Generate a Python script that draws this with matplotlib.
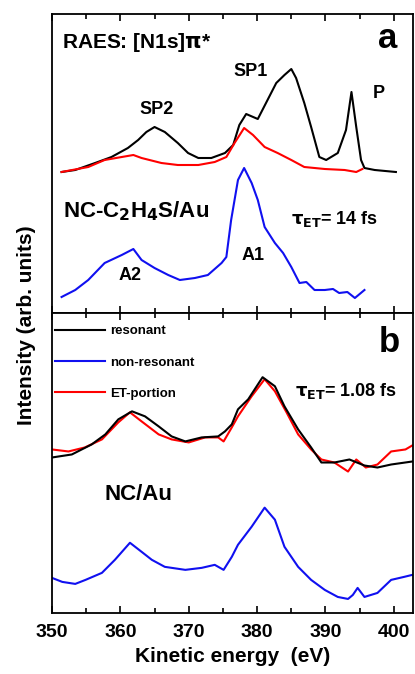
import matplotlib
matplotlib.use('Agg')
import matplotlib.pyplot as plt
from matplotlib.ticker import MultipleLocator

plt.rcParams['font.family'] = ['Liberation Sans', 'DejaVu Sans']
plt.rcParams['font.weight'] = 'bold'

# panel a: resonant (black), ET-portion (red), non-resonant (blue)
a_res_x = [351.4, 353.4, 356.3, 358.7, 361.1, 362.6, 363.8, 365.0, 366.5, 368.4, 369.9, 371.4,
           373.3, 375.3, 376.5, 377.4, 378.4, 380.1, 381.3, 382.8, 384.0, 385.0, 385.7, 386.9,
           387.9, 389.1, 390.1, 391.8, 393.0, 393.8, 394.5, 395.2, 395.7, 397.2, 400.3]
a_res_y = [141, 143, 150, 156, 165, 173, 181, 186, 181, 170, 160, 155,
           155, 160, 168, 188, 199, 194, 210, 230, 238, 244, 235, 210,
           186, 156, 153, 160, 183, 221, 186, 153, 145, 143, 141]
a_et_x = [351.4, 355.3, 357.7, 360.2, 361.9, 363.1, 366.0, 368.4, 371.4, 373.8, 375.5, 376.7,
          378.1, 379.4, 381.1, 383.0, 385.0, 386.9, 389.9, 392.8, 394.5, 395.4]
a_et_y = [141, 146, 153, 156, 158, 155, 150, 148, 148, 151, 156, 170,
          185, 178, 166, 160, 153, 146, 144, 143, 141, 144]
a_non_x = [351.4, 353.4, 355.3, 357.7, 360.2, 361.9, 363.1, 365.0, 367.0, 368.7, 370.9, 372.8,
           374.8, 375.5, 376.2, 377.2, 378.1, 379.2, 380.1, 381.1, 382.6, 383.8, 385.0, 386.2,
           387.2, 388.4, 389.9, 391.1, 392.0, 393.2, 394.3, 395.7]
a_non_y = [16, 23, 33, 50, 58, 64, 53, 45, 38, 33, 35, 38,
           50, 56, 93, 133, 145, 130, 113, 86, 70, 60, 46, 30,
           31, 23, 23, 24, 20, 21, 15, 23]

# panel b
b_res_x = [350.0, 352.9, 355.8, 357.8, 359.7, 361.7, 363.6, 365.6, 367.5, 369.5, 371.9, 374.3,
           375.3, 376.3, 377.2, 378.7, 380.8, 382.6, 384.0, 386.0, 387.9, 389.4, 391.3, 393.5,
           395.7, 397.6, 399.6, 402.7]
b_res_y = [155, 158, 168, 178, 193, 201, 196, 186, 176, 171, 175, 176,
           181, 188, 203, 213, 235, 226, 206, 183, 165, 150, 150, 153,
           147, 145, 148, 151]
b_et_x = [350.0, 352.4, 354.8, 357.3, 359.7, 361.4, 363.1, 365.6, 367.5, 370.0, 372.4, 374.3,
          375.1, 376.3, 377.2, 379.2, 381.1, 382.6, 384.3, 386.0, 387.9, 389.4, 391.3, 393.3,
          394.5, 395.9, 397.6, 399.6, 401.7, 402.7]
b_et_y = [163, 161, 165, 173, 190, 200, 191, 178, 173, 170, 175, 175,
          171, 185, 196, 216, 233, 221, 200, 178, 163, 153, 150, 141,
          153, 145, 148, 161, 163, 167]
b_non_x = [350.0, 351.5, 353.4, 354.9, 357.3, 359.2, 361.4, 363.1, 364.6, 366.5, 369.5, 371.9,
           373.8, 375.1, 376.3, 377.2, 379.2, 381.1, 382.6, 384.0, 386.0, 387.9, 389.9, 391.8,
           393.3, 394.0, 394.7, 395.7, 397.6, 399.6, 401.5, 402.7]
b_non_y = [35, 31, 29, 33, 40, 53, 70, 61, 53, 46, 43, 45,
           48, 43, 56, 68, 86, 105, 93, 66, 46, 33, 23, 16,
           14, 18, 25, 16, 20, 33, 36, 38]

W, H = 415, 674
fig = plt.figure(figsize=(W / 100, H / 100), dpi=100)
left, right = 52 / W, 413 / W
ax_a = fig.add_axes([left, 1 - 313 / H, right - left, (313 - 14) / H])
ax_b = fig.add_axes([left, 1 - 613 / H, right - left, (613 - 313) / H])

lw = 1.5
blue = '#1010f0'
ax_a.plot(a_res_x, a_res_y, color='black', lw=lw)
ax_a.plot(a_et_x, a_et_y, color='red', lw=lw)
ax_a.plot(a_non_x, a_non_y, color=blue, lw=lw)

ax_b.plot(b_res_x, b_res_y, color='black', lw=lw, label='resonant', zorder=3)
ax_b.plot(b_non_x, b_non_y, color=blue, lw=lw, label='non-resonant')
ax_b.plot(b_et_x, b_et_y, color='red', lw=lw, label='ET-portion')

for ax in (ax_a, ax_b):
    ax.set_xlim(350, 402.8)
    ax.set_ylim(0, 299)
    ax.set_yticks([])
    ax.xaxis.set_major_locator(MultipleLocator(10))
    ax.xaxis.set_minor_locator(MultipleLocator(5))
    ax.tick_params(axis='x', which='both', direction='in', top=True, bottom=True, width=1.2)
    ax.tick_params(axis='x', which='major', length=5)
    ax.tick_params(axis='x', which='minor', length=3.5)
    for s in ax.spines.values():
        s.set_linewidth(1.3)

ax_a.tick_params(axis='x', labelbottom=False)
ax_b.tick_params(axis='x', labelsize=14, pad=8)
ax_b.set_xlabel('Kinetic energy  (eV)', fontsize=15, fontweight='bold', labelpad=4)
fig.text(26 / W, 1 - 325 / H, 'Intensity (arb. units)', rotation=90, fontsize=15,
         fontweight='bold', ha='center', va='center')


def ftext(x, y, s, **kw):
    fig.text(x / W, 1 - y / H, s, fontweight='bold', **kw)


# panel a annotations
ftext(62, 42, r'RAES: [N1s]$\mathbf{\pi}$*', fontsize=15, va='center')
ftext(397, 38, 'a', fontsize=25, ha='right', va='center')
ftext(157, 109, 'SP2', fontsize=13, ha='center', va='center')
ftext(251, 72, 'SP1', fontsize=13, ha='center', va='center')
ftext(379, 93, 'P', fontsize=13, ha='center', va='center')
ftext(63, 211, r'NC-C$_\mathbf{2}$H$_\mathbf{4}$S/Au', fontsize=16, va='center')
ftext(291, 219, r'$\mathbf{\tau_{ET}}$= 14 fs', fontsize=13, va='center')
ftext(253, 255, 'A1', fontsize=13, ha='center', va='center')
ftext(130, 276, 'A2', fontsize=13, ha='center', va='center')

# panel b annotations
ftext(400, 343, 'b', fontsize=25, ha='right', va='center')
ftext(295, 391, r'$\mathbf{\tau_{ET}}$= 1.08 fs', fontsize=13, va='center')
ftext(105, 495, 'NC/Au', fontsize=16, va='center')

leg = ax_b.legend(loc='upper left', bbox_to_anchor=(55 / W, 1 - 325 / H),
                  bbox_transform=fig.transFigure, frameon=False, fontsize=9.5,
                  handlelength=3.8, handletextpad=0.35, labelspacing=1.45,
                  borderpad=0, borderaxespad=0)
for t in leg.get_texts():
    t.set_fontweight('bold')

fig.savefig('out.png', dpi=100)
